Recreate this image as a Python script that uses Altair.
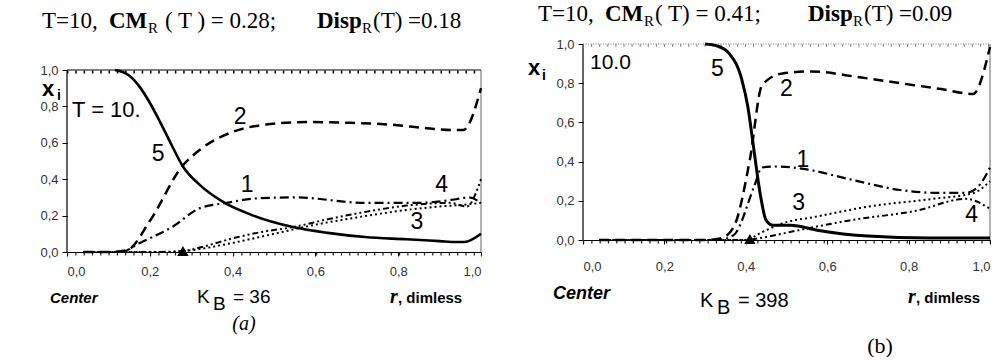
import altair as alt
import pandas as pd

# ---------------- Panel (a) data ----------------
a5_r = [0.116, 0.15, 0.176, 0.20, 0.225, 0.25, 0.28, 0.32, 0.377, 0.45, 0.546, 0.63, 0.72, 0.82, 0.90, 0.94, 0.96, 1.0]
a5_x = [1.0, 0.97, 0.906, 0.82, 0.714, 0.60, 0.47, 0.37, 0.275, 0.20, 0.137, 0.105, 0.082, 0.07, 0.06, 0.055, 0.055, 0.10]
a2_r = [0.04, 0.10, 0.145, 0.20, 0.278, 0.32, 0.40, 0.48, 0.58, 0.68, 0.78, 0.87, 0.93, 0.957, 1.0]
a2_x = [0.0, 0.0, 0.01, 0.17, 0.47, 0.56, 0.66, 0.70, 0.714, 0.71, 0.70, 0.68, 0.67, 0.67, 0.90]
a1_r = [0.04, 0.13, 0.176, 0.256, 0.32, 0.386, 0.46, 0.55, 0.72, 0.85, 0.94, 0.97, 1.0]
a1_x = [0.0, 0.0, 0.05, 0.14, 0.24, 0.27, 0.295, 0.30, 0.27, 0.27, 0.29, 0.30, 0.27]
a4_r = [0.04, 0.20, 0.28, 0.33, 0.40, 0.47, 0.546, 0.63, 0.72, 0.82, 0.925, 0.965, 1.0]
a4_x = [0.0, 0.0, 0.005, 0.03, 0.075, 0.11, 0.137, 0.18, 0.22, 0.255, 0.27, 0.25, 0.40]
a3_r = [0.04, 0.25, 0.30, 0.40, 0.50, 0.60, 0.70, 0.80, 0.90, 0.96, 1.0]
a3_x = [0.0, 0.0, 0.01, 0.05, 0.10, 0.15, 0.19, 0.225, 0.25, 0.26, 0.27]
a_lab_t = ["5", "2", "1", "4", "3"]
a_lab_r = [0.22, 0.418, 0.435, 0.905, 0.845]
a_lab_x = [0.54, 0.74, 0.37, 0.37, 0.165]
a_cm = 0.28

# ---------------- Panel (b) data ----------------
b5_r = [0.30, 0.33, 0.36, 0.39, 0.405, 0.418, 0.435, 0.45, 0.467, 0.51, 0.575, 0.70, 0.85, 1.0]
b5_x = [1.0, 0.99, 0.95, 0.82, 0.68, 0.49, 0.24, 0.10, 0.075, 0.075, 0.05, 0.02, 0.01, 0.01]
b2_r = [0.04, 0.30, 0.34, 0.37, 0.41, 0.44, 0.49, 0.56, 0.68, 0.78, 0.88, 0.958, 1.0]
b2_x = [0.0, 0.0, 0.01, 0.065, 0.41, 0.79, 0.85, 0.86, 0.83, 0.80, 0.77, 0.745, 0.985]
b1_r = [0.04, 0.33, 0.37, 0.42, 0.44, 0.475, 0.55, 0.655, 0.78, 0.88, 0.94, 0.97, 1.0]
b1_x = [0.0, 0.0, 0.025, 0.27, 0.37, 0.375, 0.36, 0.31, 0.255, 0.24, 0.24, 0.27, 0.37]
b3_r = [0.04, 0.40, 0.435, 0.49, 0.575, 0.70, 0.86, 0.96, 1.0]
b3_x = [0.0, 0.0, 0.035, 0.085, 0.12, 0.17, 0.21, 0.24, 0.30]
b4_r = [0.04, 0.40, 0.435, 0.53, 0.655, 0.82, 0.94, 1.0]
b4_x = [0.0, 0.0, 0.01, 0.05, 0.10, 0.15, 0.21, 0.16]
b_lab_t = ["5", "2", "1", "3", "4"]
b_lab_r = [0.33, 0.50, 0.54, 0.53, 0.955]
b_lab_x = [0.87, 0.77, 0.41, 0.19, 0.13]
b_cm = 0.41

tick_vals = [0.0, 0.2, 0.4, 0.6, 0.8, 1.0]
SANS = "Liberation Sans"
SERIF = "Liberation Serif"
LBL = "replace(format(datum.value, '.1f'), '.', ',')"


def make_panel(curves, labels, cm, ymax, width, height, xlabpad, ann_list, top_dark):
    xs = alt.Scale(domain=[0, 1], nice=False, zero=False)
    ys = alt.Scale(domain=[0, ymax], nice=False, zero=False)
    xax = alt.Axis(values=tick_vals, labelExpr=LBL, title=None, grid=False, domain=True,
                   domainColor="black", domainWidth=1.2, tickColor="black", tickSize=4,
                   labelPadding=xlabpad, labelFont=SANS, labelFontSize=13, labelColor="#333")
    yax = alt.Axis(values=tick_vals, labelExpr=LBL, title=None, grid=False, domain=False,
                   tickColor="black", tickSize=5, labelPadding=4, labelFont=SANS,
                   labelFontSize=13, labelColor="#333")
    X = alt.X("r:Q", scale=xs, axis=xax)
    Y = alt.Y("x:Q", scale=ys, axis=yax)
    X2 = alt.X("r2:Q", scale=xs, axis=xax)
    Ytop = alt.Y("x2:Q", scale=ys, axis=yax)

    frame = pd.DataFrame({"r": [0.0], "r2": [1.0], "x": [0.0], "x2": [1.0]})
    layers = []
    layers.append(alt.Chart(frame).mark_rule(color="black", strokeWidth=1.2).encode(
        x=X, y=Y, y2="x2:Q"))
    layers.append(alt.Chart(frame).mark_rule(color="#999", strokeWidth=1.5).encode(
        x=X2, y=Y, y2="x2:Q"))
    if top_dark:
        layers.append(alt.Chart(frame).mark_rule(color="black", strokeWidth=1.2).encode(
            x=X, x2="r2:Q", y=Ytop))
        layers.append(alt.Chart(frame).mark_rule(color="black", strokeWidth=3, yOffset=2,
                                                 strokeDash=[1.5, 6.8]).encode(
            x=X, x2="r2:Q", y=Ytop))
    else:
        layers.append(alt.Chart(frame).mark_rule(color="#777", strokeWidth=1,
                                                 strokeDash=[1, 1.5]).encode(
            x=X, x2="r2:Q", y=Ytop))
        layers.append(alt.Chart(frame).mark_rule(color="#777", strokeWidth=2.5, yOffset=1.5,
                                                 strokeDash=[1, 7.1]).encode(
            x=X, x2="r2:Q", y=Ytop))
    layers.append(alt.Chart(frame).mark_rule(color="#222", strokeWidth=3, yOffset=2,
                                             strokeDash=[1.2, 7.1]).encode(
        x=X, x2="r2:Q", y=Y))

    for r, v, dash, w in curves:
        df = pd.DataFrame({"r": r, "x": v})
        kw = dict(color="black", strokeWidth=w, interpolate="monotone", clip=False)
        if dash:
            kw["strokeDash"] = dash
        layers.append(alt.Chart(df).mark_line(**kw).encode(x=X, y=Y))

    ldf = pd.DataFrame({"r": labels[1], "x": labels[2], "t": labels[0]})
    layers.append(alt.Chart(ldf).mark_text(font=SANS, fontSize=23, color="black",
                                           align="center", baseline="middle").encode(
        x=X, y=Y, text="t:N"))

    tri = pd.DataFrame({"r": [cm], "x": [0.0]})
    layers.append(alt.Chart(tri).mark_point(shape="triangle-up", filled=True, size=130,
                                            color="black", opacity=1, yOffset=-1).encode(
        x=X, y=Y))

    layers.extend(ann_list)
    return alt.layer(*layers).properties(width=width, height=height)


def ann(text, x, y, size, font=SANS, weight="normal", style="normal", align="left",
        baseline="alphabetic", color="black"):
    return alt.Chart(pd.DataFrame({"t": [text]})).mark_text(
        align=align, baseline=baseline, font=font, fontSize=size, fontWeight=weight,
        fontStyle=style, color=color).encode(x=alt.value(x), y=alt.value(y), text="t:N")


def anchor(x, y):
    return alt.Chart(pd.DataFrame({"t": [0]})).mark_rule(opacity=0, strokeWidth=0.01).encode(
        x=alt.value(x), x2=alt.value(x), y=alt.value(y), y2=alt.value(y + 1))


# panel a: origin at page (67, 44); 1.0 at page y 70; 0 at 252
a_ann = [
    anchor(-67, -44),
    ann("T=10,", -25, -16, 23, SERIF),
    ann("CM", 42, -16, 23, SERIF, "bold"),
    ann("R", 81, -11, 15, SERIF),
    ann("( T ) = 0.28;", 98, -16, 23, SERIF),
    ann("Disp", 250, -16, 23, SERIF, "bold"),
    ann("R", 295, -11, 15, SERIF),
    ann("(T) =0.18", 306, -16, 23, SERIF),
    ann("x", -25, 52, 22, SANS, "bold"),
    ann("i", -10, 56, 14, SANS, "bold"),
    ann("T = 10.", 5, 73, 22, SANS),
    ann("Center", -17, 259, 15, SANS, "bold", "italic"),
    ann("K", 130, 259, 19, SANS),
    ann("B", 146, 266, 19, SANS),
    ann("= 36", 166, 259, 19, SANS),
    ann("r", 323, 259, 20, SERIF, "bold", "italic"),
    ann(", dimless", 331, 259, 15, SANS, "bold"),
    ann("(a)", 177, 286, 20, SERIF, "normal", "italic", "center"),
]

# panel b: origin at page (583, 44); 1.0 at 44; 0 at 240
b_ann = [
    ann("T=10,", -45, -23, 23, SERIF),
    ann("CM", 22, -23, 23, SERIF, "bold"),
    ann("R", 61, -18, 15, SERIF),
    ann("( T) = 0.41;", 72, -23, 23, SERIF),
    ann("Disp", 225, -23, 23, SERIF, "bold"),
    ann("R", 270, -18, 15, SERIF),
    ann("(T) =0.09", 281, -23, 23, SERIF),
    ann("x", -55, 31, 22, SANS, "bold"),
    ann("i", -41, 36, 14, SANS, "bold"),
    ann("10.0", 7, 25, 21, SANS),
    ann("Center", -30, 255, 18, SANS, "bold", "italic"),
    ann("K", 117, 263, 20, SANS),
    ann("B", 134, 270, 20, SANS),
    ann("= 398", 155, 263, 20, SANS),
    ann("r", 325, 259, 20, SERIF, "bold", "italic"),
    ann(", dimless", 333, 259, 15, SANS, "bold"),
    ann("(b)", 297, 309, 22, SERIF, "normal", "normal", "center"),
]

panel_a = make_panel(
    [(a2_r, a2_x, [10, 6], 2.5), (a1_r, a1_x, [9, 4, 2, 4], 2.2),
     (a4_r, a4_x, [6, 3, 2, 3, 2, 3], 2.0), (a3_r, a3_x, [2, 3], 2.0),
     (a5_r, a5_x, None, 2.6)],
    (a_lab_t, a_lab_r, a_lab_x), a_cm, 208 / 182, 414, 208, 9, a_ann, True)

panel_b = make_panel(
    [(b2_r, b2_x, [10, 6], 2.5), (b1_r, b1_x, [9, 4, 2, 4], 2.2),
     (b4_r, b4_x, [6, 3, 2, 3, 2, 3], 2.0), (b3_r, b3_x, [2, 3], 2.0),
     (b5_r, b5_x, None, 3.0)],
    (b_lab_t, b_lab_r, b_lab_x), b_cm, 1.0, 407, 196, 16, b_ann, False)

chart = alt.hconcat(panel_a, panel_b, spacing=102, bounds="flush").properties(
    padding=0, background="white"
).configure_view(stroke=None).configure_concat(spacing=102)

chart.save("out.html", embed_options={"renderer": "svg", "actions": False})
